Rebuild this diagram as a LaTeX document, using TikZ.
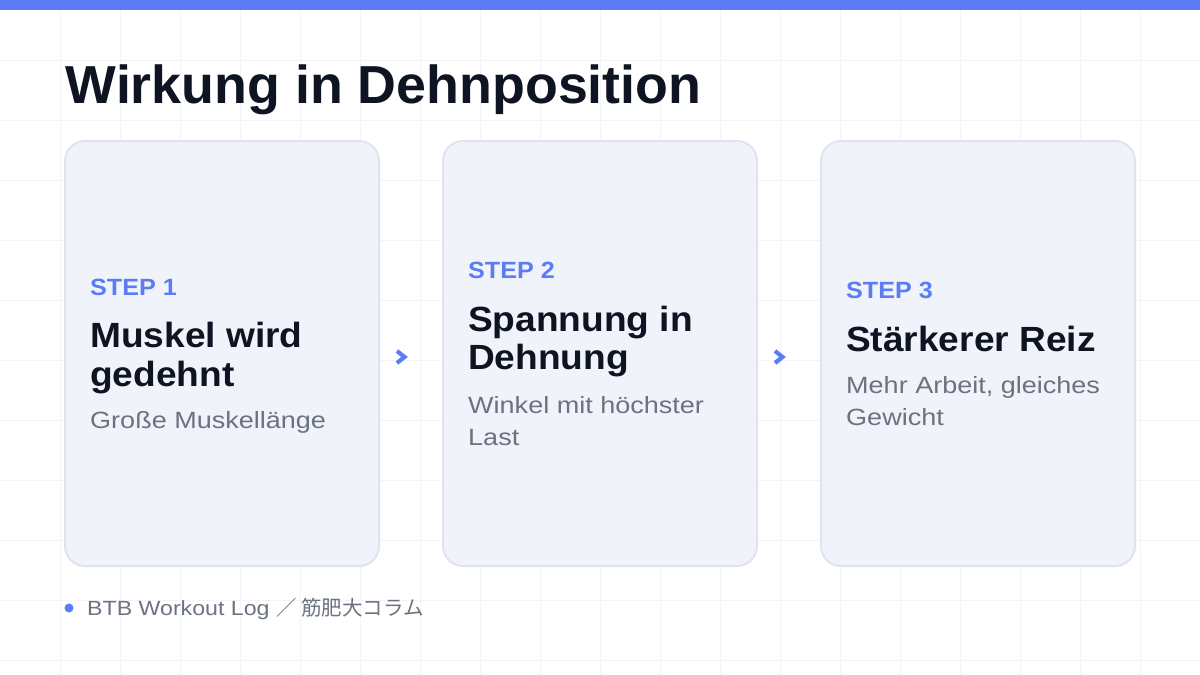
\documentclass[tikz,border=0pt]{standalone}
\usepackage{fontspec}
\usetikzlibrary{calc}
\setmainfont{Liberation Sans}
\newfontfamily\titlef{Liberation Sans}[FakeStretch=1.005]
\newfontfamily\headf{Liberation Sans}[FakeStretch=1.06]
\newfontfamily\stepf{Liberation Sans}[FakeStretch=1.07]
\newfontfamily\subf{Liberation Sans}[FakeStretch=1.15]
\newfontfamily\footf{Liberation Sans}[FakeStretch=1.13]
\newfontfamily\cjkf{Noto Sans CJK JP}
\definecolor{accent}{HTML}{5B7CF5}
\definecolor{gridc}{HTML}{F3F4F7}
\definecolor{cardfill}{HTML}{F1F3FB}
\definecolor{cardline}{HTML}{E0E4F0}
\definecolor{ink}{HTML}{0F1422}
\definecolor{muted}{HTML}{6B7280}
\tikzset{
  card/.style={draw=cardline, line width=2pt, fill=cardfill, rounded corners=20pt, minimum width=314pt, minimum height=425pt, inner sep=0pt},
  steplbl/.style={anchor=base west, inner sep=0pt, text=accent, font=\stepf\bfseries\fontsize{23.5}{28}\selectfont},
  headl/.style={anchor=base west, inner sep=0pt, text=ink, font=\headf\bfseries\fontsize{35}{38}\selectfont},
  subl/.style={anchor=base west, inner sep=0pt, text=muted, font=\subf\fontsize{23.5}{32}\selectfont},
  chev/.style={draw=accent, line width=4.2pt, miter limit=10}
}
\begin{document}
\begin{tikzpicture}[x=1pt,y=-1pt]
\useasboundingbox (0,0) rectangle (1200,675);
\fill[white] (0,0) rectangle (1200,675);
\foreach \x in {60,120,...,1140} \draw[gridc, line width=1pt] (\x,0) -- (\x,675);
\foreach \y in {60,120,...,660} \draw[gridc, line width=1pt] (0,\y) -- (1200,\y);
\fill[accent] (0,0) rectangle (1200,10);
\node[anchor=base west, inner sep=0pt, text=ink, font=\titlef\bfseries\fontsize{53.5}{60}\selectfont] (title) at (65.5,103) {Wirkung in Dehnposition};
\node[card] (c1) at (222,353.5) {};
\node[card] (c2) at (600,353.5) {};
\node[card] (c3) at (978,353.5) {};
% card 1
\node[steplbl] (s1) at (90,295.5) {STEP 1};
\node[headl] (h1a) at (90,347) {Muskel wird};
\node[headl] (h1b) at (90,386) {gedehnt};
\node[subl] (d1a) at (90,428) {Große Muskellänge};
% card 2
\node[steplbl] (s2) at (468,278.5) {STEP 2};
\node[headl] (h2a) at (468,331) {Spannung in};
\node[headl] (h2b) at (468,369) {Dehnung};
\node[subl] (d2a) at (468,413) {Winkel mit höchster};
\node[subl] (d2b) at (468,445) {Last};
% card 3
\node[steplbl] (s3) at (846,298.5) {STEP 3};
\node[headl] (h3a) at (846,351) {Stärkerer Reiz};
\node[subl] (d3a) at (846,393) {Mehr Arbeit, gleiches};
\node[subl] (d3b) at (846,425) {Gewicht};
% chevrons
\coordinate (a1) at (401,357);
\coordinate (a2) at (779,357);
\draw[chev] ($(a1)+(-4,-6)$) -- ($(a1)+(3.5,0)$) -- ($(a1)+(-4,6)$);
\draw[chev] ($(a2)+(-4,-6)$) -- ($(a2)+(3.5,0)$) -- ($(a2)+(-4,6)$);
% footer
\fill[accent] (69,608) circle (4.5pt);
\node[anchor=base west, inner sep=0pt, text=muted, font=\footf\fontsize{20.5}{24}\selectfont] (foot) at (87,615) {BTB Workout Log {\cjkf ／ 筋肥大コラム}};
\end{tikzpicture}
\end{document}
